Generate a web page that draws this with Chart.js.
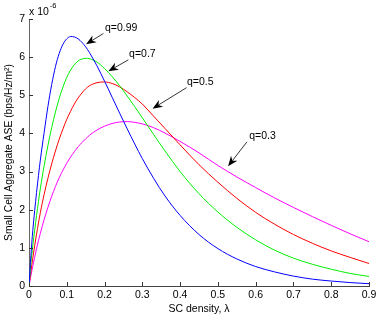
<!DOCTYPE html>
<html>
<head>
<meta charset="utf-8">
<script src="https://cdn.jsdelivr.net/npm/chart.js@4.4.1/dist/chart.umd.min.js"></script>
<style>
  html, body { margin: 0; padding: 0; background: #ffffff; }
  #wrap { width: 381px; height: 318px; }
</style>
</head>
<body>
<div id="wrap"><canvas id="c" width="381" height="318"></canvas></div>
<script>
// ---- data ----
const lambda = [0, 0.005, 0.01, 0.02, 0.03, 0.04, 0.05, 0.06, 0.07, 0.08, 0.09, 0.10, 0.11, 0.12, 0.13, 0.14, 0.15, 0.16, 0.18, 0.20, 0.22, 0.24, 0.26, 0.28, 0.30, 0.33, 0.36, 0.40, 0.45, 0.50, 0.55, 0.60, 0.65, 0.70, 0.75, 0.80, 0.85, 0.90];
const aseQ099 = [0, 0.8, 1.45, 2.45, 3.3, 4.02, 4.7, 5.28, 5.75, 6.1, 6.34, 6.48, 6.54, 6.53, 6.48, 6.39, 6.27, 6.12, 5.77, 5.37, 4.95, 4.53, 4.12, 3.72, 3.34, 2.82, 2.36, 1.85, 1.35, 0.98, 0.71, 0.51, 0.37, 0.26, 0.18, 0.13, 0.09, 0.06];
const aseQ07  = [0, 0.6, 1.05, 1.85, 2.55, 3.15, 3.68, 4.15, 4.56, 4.92, 5.22, 5.47, 5.66, 5.8, 5.9, 5.95, 5.97, 5.96, 5.87, 5.70, 5.49, 5.25, 4.98, 4.70, 4.41, 3.97, 3.54, 3.0, 2.42, 1.94, 1.54, 1.21, 0.94, 0.73, 0.57, 0.44, 0.33, 0.25];
const aseQ05  = [0, 0.38, 0.73, 1.36, 1.92, 2.4, 2.82, 3.2, 3.54, 3.85, 4.12, 4.37, 4.58, 4.77, 4.93, 5.06, 5.17, 5.25, 5.33, 5.35, 5.31, 5.22, 5.09, 4.94, 4.77, 4.45, 4.13, 3.70, 3.18, 2.72, 2.30, 1.93, 1.62, 1.35, 1.12, 0.92, 0.75, 0.59];
const aseQ03  = [0, 0.27, 0.52, 0.98, 1.38, 1.74, 2.06, 2.35, 2.61, 2.84, 3.04, 3.22, 3.38, 3.52, 3.65, 3.76, 3.86, 3.95, 4.09, 4.19, 4.26, 4.30, 4.31, 4.29, 4.25, 4.15, 4.01, 3.79, 3.49, 3.16, 2.86, 2.58, 2.31, 2.06, 1.82, 1.59, 1.37, 1.16];
const seriesNames = ['q=0.99', 'q=0.7', 'q=0.5', 'q=0.3'];
const xTickLabels = ['0', '0.1', '0.2', '0.3', '0.4', '0.5', '0.6', '0.7', '0.8', '0.9'];
const yTickLabels = ['0', '1', '2', '3', '4', '5', '6', '7'];
// annotation text and arrow ends, in data units (x = lambda, y = ASE x 1e-6)
const annTextX = [0.201, 0.265, 0.418, 0.583];
const annTextY = [6.75, 6.07, 5.35, 3.93];
const annTailX = [0.197, 0.263, 0.417, 0.577];
const annTailY = [6.62, 5.93, 5.20, 3.78];
const annTipX  = [0.151, 0.210, 0.327, 0.527];
const annTipY  = [6.34, 5.63, 4.65, 3.14];

const FONT = '"Liberation Sans", Arial, Helvetica, sans-serif';
const colors = ['#0000ff', '#00ee00', '#ff0000', '#ff00ff'];
const seriesValues = [aseQ099, aseQ07, aseQ05, aseQ03];

const datasets = seriesValues.map((vals, k) => ({
  label: seriesNames[k],
  data: lambda.map((x, i) => ({ x: x, y: vals[i] })),
  borderColor: colors[k],
  borderWidth: 1,
  pointRadius: 0,
  fill: false,
  cubicInterpolationMode: 'monotone'
}));

const decorPlugin = {
  id: 'decor',
  afterDraw(chart) {
    const ctx = chart.ctx;
    const xs = chart.scales.x, ys = chart.scales.y;
    const area = chart.chartArea;
    ctx.save();
    // inward tick marks
    ctx.strokeStyle = '#333333';
    ctx.lineWidth = 1;
    ctx.beginPath();
    xs.ticks.forEach(t => {
      const px = Math.round(xs.getPixelForValue(t.value)) + 0.5;
      ctx.moveTo(px, area.bottom);
      ctx.lineTo(px, area.bottom - 4);
    });
    ys.ticks.forEach(t => {
      const py = Math.round(ys.getPixelForValue(t.value)) + 0.5;
      ctx.moveTo(area.left, py);
      ctx.lineTo(area.left + 4, py);
    });
    ctx.stroke();
    // exponent label
    ctx.fillStyle = '#000';
    ctx.textBaseline = 'alphabetic';
    ctx.textAlign = 'left';
    ctx.font = '10.5px ' + FONT;
    ctx.fillText('x 10', area.left, 15);
    const w = ctx.measureText('x 10').width;
    ctx.font = '7.5px ' + FONT;
    ctx.fillText('-6', area.left + w + 1, 8);
    // annotations
    for (let i = 0; i < seriesNames.length; i++) {
      const tx = xs.getPixelForValue(annTextX[i]);
      const ty = ys.getPixelForValue(annTextY[i]);
      ctx.font = '10.5px ' + FONT;
      ctx.textBaseline = 'middle';
      ctx.fillStyle = '#000';
      ctx.fillText(seriesNames[i], tx, ty);
      const x0 = xs.getPixelForValue(annTailX[i]);
      const y0 = ys.getPixelForValue(annTailY[i]);
      const x1 = xs.getPixelForValue(annTipX[i]);
      const y1 = ys.getPixelForValue(annTipY[i]);
      const ang = Math.atan2(y1 - y0, x1 - x0);
      const L = 10, H = 4, N = 7;
      ctx.strokeStyle = '#000';
      ctx.lineWidth = 0.8;
      ctx.beginPath();
      ctx.moveTo(x0, y0);
      ctx.lineTo(x1 - Math.cos(ang) * N, y1 - Math.sin(ang) * N);
      ctx.stroke();
      const bx = x1 - Math.cos(ang) * L, by = y1 - Math.sin(ang) * L;
      const nx = -Math.sin(ang), ny = Math.cos(ang);
      ctx.beginPath();
      ctx.moveTo(x1, y1);
      ctx.lineTo(bx + nx * H, by + ny * H);
      ctx.lineTo(x1 - Math.cos(ang) * N, y1 - Math.sin(ang) * N);
      ctx.lineTo(bx - nx * H, by - ny * H);
      ctx.closePath();
      ctx.fillStyle = '#000';
      ctx.fill();
    }
    ctx.restore();
  }
};

new Chart(document.getElementById('c'), {
  type: 'line',
  data: { datasets: datasets },
  options: {
    responsive: false,
    devicePixelRatio: 1,
    animation: false,
    layout: { padding: { top: 19, right: 12, left: 0, bottom: 0 } },
    plugins: { legend: { display: false }, tooltip: { enabled: false } },
    scales: {
      x: {
        type: 'linear',
        min: 0, max: 0.9,
        afterFit: s => { s.height = 32; },
        ticks: {
          stepSize: 0.1,
          autoSkip: false,
          maxRotation: 0,
          padding: 3,
          color: '#000',
          font: { family: FONT, size: 10.5 },
          callback: (v, i) => xTickLabels[i]
        },
        grid: { display: false, drawTicks: false },
        border: { display: true, color: '#444', width: 1 },
        title: {
          display: true,
          text: 'SC density, λ',
          color: '#000',
          font: { family: FONT, size: 10.5 },
          padding: { top: 0, bottom: 3 }
        }
      },
      y: {
        type: 'linear',
        min: 0, max: 7,
        afterFit: s => { s.width = 29; },
        ticks: {
          stepSize: 1,
          padding: 4,
          color: '#000',
          font: { family: FONT, size: 10.5 },
          callback: (v, i) => yTickLabels[i]
        },
        grid: { display: false, drawTicks: false },
        border: { display: true, color: '#666', width: 1 },
        title: {
          display: true,
          text: 'Small Cell Aggregate ASE (bps/Hz/m²)',
          color: '#000',
          font: { family: FONT, size: 10.3 },
          padding: { top: 3, bottom: 0 }
        }
      }
    }
  },
  plugins: [decorPlugin]
});
</script>
</body>
</html>
